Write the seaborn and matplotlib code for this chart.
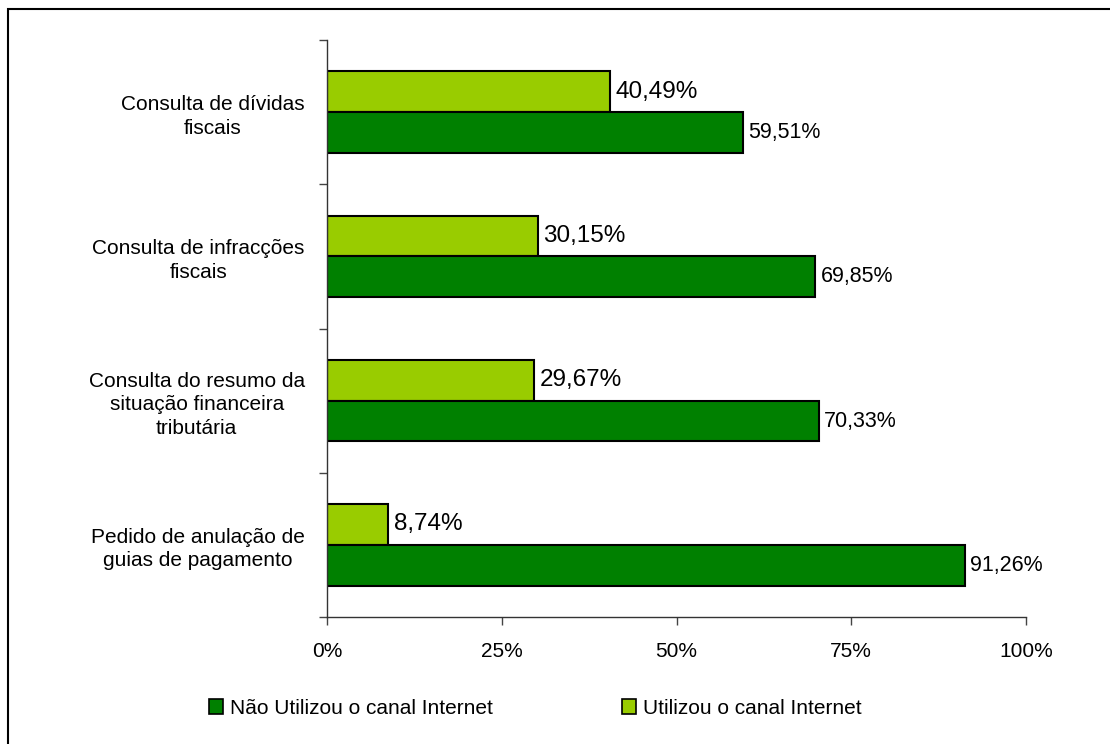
import matplotlib
matplotlib.use("Agg")
import matplotlib.pyplot as plt
import seaborn as sns
import pandas as pd
from matplotlib.patches import Rectangle, Patch

categories = [
    "Consulta de dívidas\nfiscais",
    "Consulta de infracções\nfiscais",
    "Consulta do resumo da\nsituação financeira\ntributária",
    "Pedido de anulação de\nguias de pagamento",
]
series_names = ["Utilizou o canal Internet", "Não Utilizou o canal Internet"]
utilizou = [40.49, 30.15, 29.67, 8.74]
nao_utilizou = [59.51, 69.85, 70.33, 91.26]
x_ticks = [0, 25, 50, 75, 100]
x_tick_labels = ["0%", "25%", "50%", "75%", "100%"]

colors = {"Utilizou o canal Internet": "#99CC00", "Não Utilizou o canal Internet": "#008000"}

sns.set_style("white")
plt.rcParams["font.family"] = ["Liberation Sans", "DejaVu Sans"]
plt.rcParams["text.color"] = "black"

df = pd.DataFrame({
    "categoria": categories * 2,
    "serie": [series_names[0]] * len(categories) + [series_names[1]] * len(categories),
    "valor": utilizou + nao_utilizou,
})

fig = plt.figure(figsize=(11.1, 7.44), dpi=100)
ax = fig.add_axes([327 / 1110, 1 - 617 / 744, (1026 - 327) / 1110, (617 - 40) / 744])

sns.barplot(data=df, y="categoria", x="valor", hue="serie", hue_order=series_names,
            order=categories, palette=colors, width=0.565, gap=0, orient="h",
            edgecolor="black", linewidth=1.5, ax=ax, legend=False, saturation=1)

# value labels
for container, name in zip(ax.containers, series_names):
    big = name == series_names[0]
    labels = [f"{v:.2f}".replace(".", ",") + "%" for v in container.datavalues]
    ax.bar_label(container, labels=labels, padding=4,
                 fontsize=17.5 if big else 15.5, color="black")

ax.set_xlim(0, 100)
ax.set_ylim(len(categories) - 0.5, -0.5)
ax.set_xticks(x_ticks)
ax.set_xticklabels(x_tick_labels, fontsize=15)
ax.set_yticks(range(len(categories)))
ax.set_yticklabels(categories, fontsize=15)
for lab in ax.get_yticklabels():
    lab.set_multialignment("center")
    lab.set_linespacing(1.3)
ax.set_yticks([i - 0.5 for i in range(len(categories) + 1)], minor=True)
ax.tick_params(axis="y", which="major", length=0, pad=16, labelcolor="black")
ax.tick_params(axis="y", which="minor", left=True, length=6, width=1, color="#444444")
ax.tick_params(axis="x", which="major", bottom=True, length=6, width=1, pad=12,
               color="#444444", labelcolor="black")
ax.set_xlabel("")
ax.set_ylabel("")
for s in ["top", "right"]:
    ax.spines[s].set_visible(False)
for s in ["left", "bottom"]:
    ax.spines[s].set_color("#333333")
    ax.spines[s].set_linewidth(1)

handles = [Patch(facecolor=colors[series_names[1]], edgecolor="black", linewidth=1.2),
           Patch(facecolor=colors[series_names[0]], edgecolor="black", linewidth=1.2)]
fig.legend(handles, [series_names[1], series_names[0]], loc="center",
           bbox_to_anchor=(535 / 1110, 1 - 708 / 744), ncol=2, frameon=False,
           fontsize=15, handlelength=0.7, handleheight=0.7, handletextpad=0.3,
           columnspacing=6.2, labelcolor="black")

# outer frame (top and left visible)
fig.add_artist(Rectangle((8 / 1110, -0.1), 1.2, 1 - 9 / 744 + 0.1, transform=fig.transFigure,
                         fill=False, edgecolor="black", linewidth=1.5))

fig.savefig("out.png", dpi=100)
